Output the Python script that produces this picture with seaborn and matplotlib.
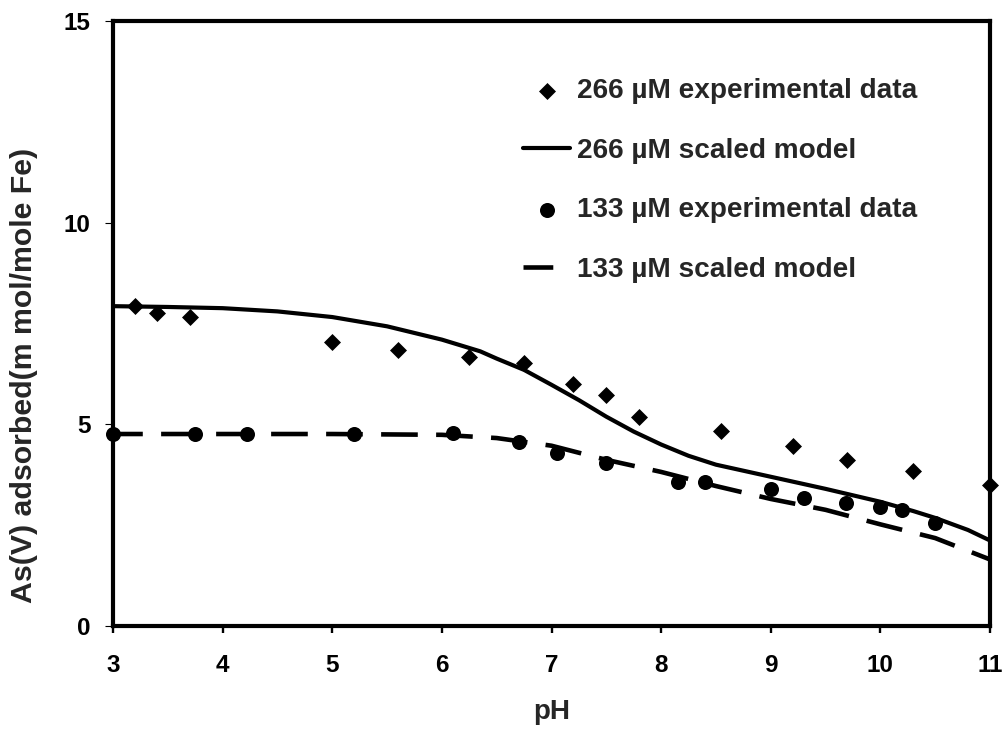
import numpy as np
import pandas as pd
import matplotlib
matplotlib.use("Agg")
import matplotlib.pyplot as plt
from matplotlib import font_manager
import seaborn as sns

# ---- data ----
ph_266_exp = [3.2, 3.4, 3.7, 5.0, 5.6, 6.25, 6.75, 7.2, 7.5, 7.8, 8.55, 9.2, 9.7, 10.3, 11.0]
ads_266_exp = [7.94, 7.76, 7.66, 7.05, 6.85, 6.68, 6.53, 6.0, 5.72, 5.19, 4.84, 4.47, 4.12, 3.85, 3.50]

ph_266_model = [3.0, 3.5, 4.0, 4.5, 5.0, 5.5, 6.0, 6.35, 6.5, 6.75, 7.0, 7.25, 7.5, 7.75,
                8.0, 8.25, 8.5, 9.0, 9.5, 10.0, 10.3, 10.5, 10.8, 11.0]
ads_266_model = [7.93, 7.91, 7.88, 7.80, 7.66, 7.43, 7.10, 6.81, 6.63, 6.35, 5.98, 5.60, 5.19, 4.82,
                 4.50, 4.22, 4.00, 3.70, 3.40, 3.08, 2.85, 2.68, 2.38, 2.12]

ph_133_exp = [3.0, 3.75, 4.22, 5.2, 6.1, 6.7, 7.05, 7.5, 8.15, 8.4, 9.0, 9.3, 9.69, 10.0, 10.2, 10.5]
ads_133_exp = [4.76, 4.76, 4.76, 4.76, 4.78, 4.57, 4.30, 4.04, 3.58, 3.57, 3.40, 3.18, 3.04, 2.96, 2.88, 2.56]

ph_133_model = [3.0, 4.0, 5.0, 6.0, 6.5, 7.0, 7.5, 8.0, 8.5, 9.0, 9.5, 10.0, 10.5, 11.0]
ads_133_model = [4.76, 4.76, 4.76, 4.74, 4.66, 4.47, 4.12, 3.82, 3.47, 3.15, 2.88, 2.52, 2.18, 1.65]

labels = ["266 \u00b5M experimental data", "266 \u00b5M scaled model",
          "133 \u00b5M experimental data", "133 \u00b5M scaled model"]
x_ticks = [3, 4, 5, 6, 7, 8, 9, 10, 11]
y_ticks = [0, 5, 10, 15]

sns.set_style("white")
plt.rcParams["font.family"] = ["Liberation Sans", "DejaVu Sans"]
plt.rcParams["font.weight"] = "bold"

installed = {f.name for f in font_manager.fontManager.ttflist}
if "Liberation Sans Narrow" in installed:
    tick_family, tick_size = ["Liberation Sans Narrow", "Liberation Sans"], 20
else:
    tick_family, tick_size = ["Liberation Sans", "DejaVu Sans"], 17.5

fig = plt.figure(figsize=(10.04, 7.29), dpi=100)
ax = fig.add_axes([113 / 1004, 103 / 729, 877 / 1004, 605 / 729])

sns.scatterplot(x=ph_266_exp, y=ads_266_exp, marker="D", s=75, color="black",
                linewidth=0, label=labels[0], clip_on=False, zorder=4, ax=ax)
sns.lineplot(x=ph_266_model, y=ads_266_model, color="black", lw=3.0, estimator=None,
             sort=False, label=labels[1], zorder=3, ax=ax)
sns.scatterplot(x=ph_133_exp, y=ads_133_exp, marker="o", s=117, color="black",
                linewidth=0, label=labels[2], clip_on=False, zorder=4, ax=ax)
sns.lineplot(x=ph_133_model, y=ads_133_model, color="black", lw=3.3, estimator=None,
             sort=False, label=labels[3], zorder=3, ax=ax, linestyle=(1.5, (8, 4)))

ax.set_xlim(3, 11)
ax.set_ylim(0, 15)
ax.set_xticks(x_ticks)
ax.set_yticks(y_ticks)
ax.set_xticklabels([str(v) for v in x_ticks], fontsize=tick_size, fontweight="bold", family=tick_family)
ax.set_yticklabels([str(v) for v in y_ticks], fontsize=tick_size, fontweight="bold", family=tick_family)

for sp in ax.spines.values():
    sp.set_visible(True)
    sp.set_linewidth(3)
    sp.set_color("black")

ax.tick_params(axis="x", direction="out", length=5, width=1.7, pad=15, colors="black", bottom=True)
ax.tick_params(axis="y", direction="out", length=6, width=0.8, pad=10, colors="black", left=True)

ax.set_xlabel("pH", fontsize=20, fontweight="bold")
ax.set_ylabel("As(V) adsorbed(m mol/mole Fe)", fontsize=21.8, fontweight="bold")
ax.xaxis.set_label_coords(0.5, (626 - 712) / 605)
ax.xaxis.label.set_va("center")
ax.yaxis.set_label_coords((24 - 113) / 877, (626 - 375) / 605)
ax.yaxis.label.set_va("center")

handles, labs = ax.get_legend_handles_labels()
leg = ax.legend(handles, labs, loc="upper left",
                bbox_to_anchor=((523 - 113) / 877, (626 - 78) / 605),
                frameon=False, fontsize=20.2, handlelength=1.68, handletextpad=0.25,
                labelspacing=1.2, borderpad=0, borderaxespad=0, scatterpoints=1)
for t in leg.get_texts():
    t.set_fontweight("bold")

fig.savefig("out.png", dpi=100, facecolor="white")
